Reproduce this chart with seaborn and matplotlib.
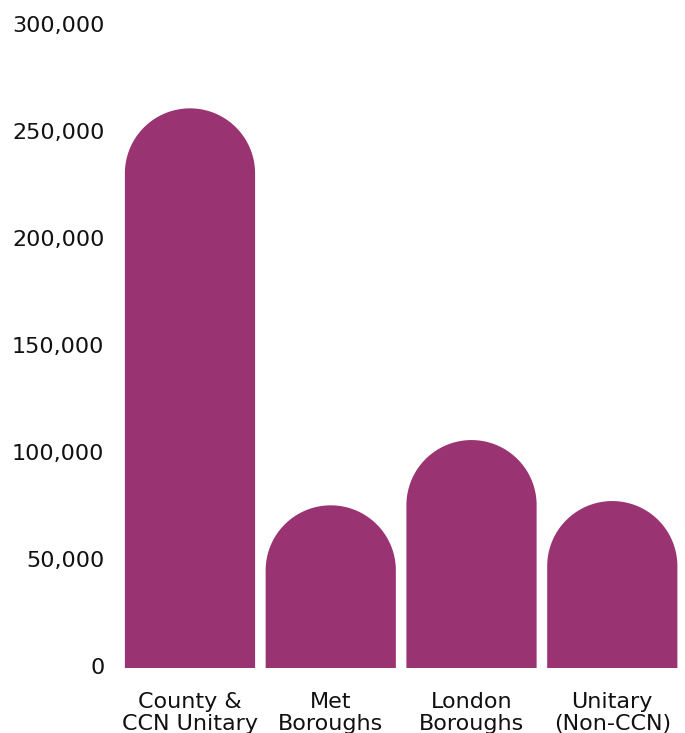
import matplotlib
matplotlib.use("Agg")
import matplotlib.pyplot as plt
import seaborn as sns
import numpy as np
import pandas as pd
from matplotlib.patches import Polygon
from matplotlib.ticker import FuncFormatter

categories = ["County &\nCCN Unitary", "Met\nBoroughs", "London\nBoroughs", "Unitary\n(Non-CCN)"]
values = [261500, 76000, 106500, 78000]
y_ticks = [0, 50000, 100000, 150000, 200000, 250000, 300000]

bar_color = "#993372"

sns.set_theme(style="white")
plt.rcParams["font.family"] = ["DejaVu Sans"]

fig = plt.figure(figsize=(6.85, 7.33), dpi=100)
ax = fig.add_axes([0.1746, 0.0887, 0.822, 0.8759])

df = pd.DataFrame({"category": categories, "value": values})
sns.barplot(data=df, x="category", y="value", color=bar_color, width=0.925,
            saturation=1, ax=ax)

ax.set_xlim(-0.5, 3.5)
ax.set_ylim(0, 300000)
ax.set_yticks(y_ticks)
ax.yaxis.set_major_formatter(FuncFormatter(lambda v, p: f"{int(v):,}"))
ax.set_xlabel("")
ax.set_ylabel("")
for s in ax.spines.values():
    s.set_visible(False)
ax.tick_params(axis="y", length=0, pad=11, labelsize=16, labelcolor="#111111")
ax.tick_params(axis="x", length=0, pad=17, labelsize=16, labelcolor="#111111")
for lbl in ax.get_xticklabels():
    lbl.set_linespacing(1.16)
for lbl in ax.get_yticklabels():
    lbl.set_verticalalignment("center")

# Replace the square bar tops with semicircular caps (round in screen space)
to_disp = ax.transData
inv = ax.transData.inverted()
for patch in list(ax.patches):
    x0 = patch.get_x()
    w = patch.get_width()
    h = patch.get_height()
    (px0, py0) = to_disp.transform((x0, 0))
    (px1, py1) = to_disp.transform((x0 + w, h))
    r = (px1 - px0) / 2.0
    cx = (px0 + px1) / 2.0
    cy = py1 - r
    theta = np.linspace(np.pi, 0, 80)
    arc = np.column_stack([cx + r * np.cos(theta), cy + r * np.sin(theta)])
    pts_disp = np.vstack([[px0, py0], arc, [px1, py0]])
    pts = inv.transform(pts_disp)
    patch.set_visible(False)
    ax.add_patch(Polygon(pts, closed=True, facecolor=bar_color, edgecolor="none"))

fig.savefig("out.png", dpi=100)
